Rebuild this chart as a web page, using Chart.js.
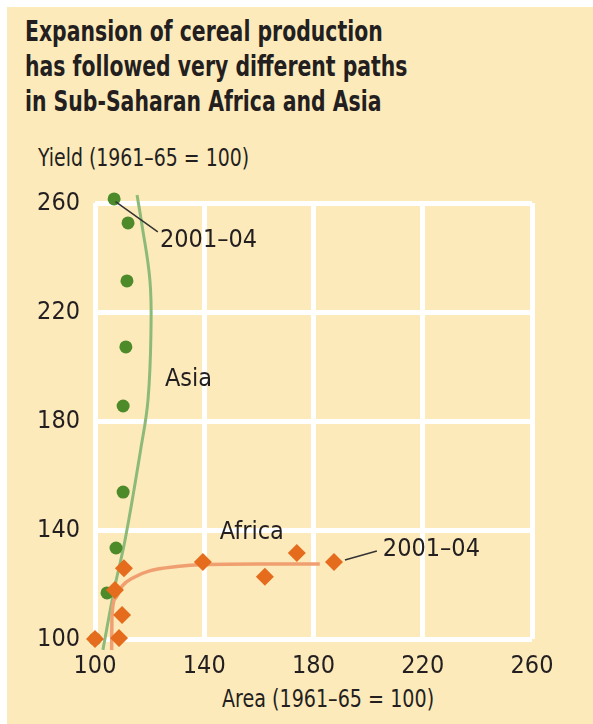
<!DOCTYPE html>
<html>
<head>
<meta charset="utf-8">
<script src="https://cdn.jsdelivr.net/npm/chart.js@4.4.1/dist/chart.umd.min.js"></script>
<style>
  html, body { margin: 0; padding: 0; background: #fff; }
  body { width: 593px; height: 724px; position: relative; overflow: hidden; }
  #panel { position: absolute; left: 7px; top: 7px; right: 0; bottom: 0; background: #fdeabb; }
  .txt { position: absolute; color: #231f20; font-family: 'Liberation Sans Narrow', 'DejaVu Sans Condensed', sans-serif; white-space: nowrap; transform-origin: 0 0; }
  #title { left: 25px; top: 14px; font-size: 28px; line-height: 35px; font-weight: bold; transform: scaleX(0.81); }
  #ylabel { left: 38px; top: 143px; font-size: 25px; transform: scaleX(0.84); }
  #xlabel { left: 222px; top: 684px; font-size: 25px; transform: scaleX(0.85); }
  canvas { position: absolute; left: 0; top: 0; }
</style>
</head>
<body>
<div id="panel"></div>
<div class="txt" id="title">Expansion of cereal production<br>has followed very different paths<br>in Sub-Saharan Africa and Asia</div>
<div class="txt" id="ylabel">Yield (1961–65 = 100)</div>
<div class="txt" id="xlabel">Area (1961–65 = 100)</div>
<canvas id="chart" width="593" height="724"></canvas>
<script>
// index values, 1961-65 = 100
const asiaArea = [100, 104.4, 107.7, 110.3, 110.3, 111.3, 111.7, 112.1, 107];
const asiaYield = [100, 116.9, 133.4, 153.9, 185.5, 207.2, 231.4, 252.7, 261.5];
const africaArea = [100, 108.8, 109.9, 107.3, 110.6, 139.5, 162.2, 173.9, 187.5];
const africaYield = [100, 100.4, 108.8, 118, 126, 128.3, 122.8, 131.6, 128.3];

// fitted trend curves
const asiaTrendArea = [102.9, 107, 111, 116.7, 119.4, 120.5, 120.1, 117.1, 115.4];
const asiaTrendYield = [96, 118, 136.3, 169.4, 187.7, 213.4, 231.7, 252.6, 262.9];
const africaTrendArea = [106.1, 106.2, 107.5, 110, 114, 120, 130, 140, 160, 182.3];
const africaTrendYield = [96, 108, 115, 119.5, 122.5, 125, 126.6, 127.3, 127.5, 127.5];

const axisTicks = [100, 140, 180, 220, 260];

const pts = (xs, ys) => xs.map((x, i) => ({ x: x, y: ys[i] }));
const font = "'Liberation Sans Narrow', 'DejaVu Sans Condensed', sans-serif";

const labels = {
  id: 'labels',
  afterDatasetsDraw(chart) {
    const { ctx, scales: { x, y } } = chart;
    ctx.save();
    // leader lines for the last period
    ctx.strokeStyle = '#333';
    ctx.lineWidth = 1.5;
    ctx.beginPath();
    ctx.moveTo(x.getPixelForValue(107.5), y.getPixelForValue(260.5));
    ctx.lineTo(x.getPixelForValue(123), y.getPixelForValue(249.4));
    ctx.moveTo(x.getPixelForValue(191.5), y.getPixelForValue(129));
    ctx.lineTo(x.getPixelForValue(203.2), y.getPixelForValue(132.3));
    ctx.stroke();

    ctx.fillStyle = '#231f20';
    ctx.font = '25px ' + font;
    ctx.textAlign = 'left';
    ctx.textBaseline = 'middle';
    ctx.fillText('2001–04', x.getPixelForValue(123.8), y.getPixelForValue(246.4));
    ctx.fillText('2001–04', x.getPixelForValue(205.4), y.getPixelForValue(132.7));
    ctx.fillText('Asia', x.getPixelForValue(125.6), y.getPixelForValue(195.4));
    ctx.fillText('Africa', x.getPixelForValue(145.7), y.getPixelForValue(138.9));
    ctx.restore();
  }
};

new Chart(document.getElementById('chart'), {
  type: 'scatter',
  data: {
    datasets: [
      {
        label: 'Africa',
        data: pts(africaArea, africaYield),
        pointStyle: 'rectRot',
        pointRadius: 9,
        backgroundColor: '#e46c1c',
        borderWidth: 0,
        clip: false,
      },
      {
        label: 'Asia',
        data: pts(asiaArea, asiaYield),
        pointRadius: 6.5,
        backgroundColor: '#4c8a2a',
        borderWidth: 0,
        clip: false,
      },
      {
        type: 'line',
        label: 'Africa trend',
        data: pts(africaTrendArea, africaTrendYield),
        borderColor: '#f0a070',
        borderWidth: 3.5,
        pointRadius: 0,
        cubicInterpolationMode: 'monotone',
        fill: false,
        clip: false,
      },
      {
        type: 'line',
        label: 'Asia trend',
        data: pts(asiaTrendArea, asiaTrendYield),
        borderColor: '#8dba78',
        borderWidth: 3,
        pointRadius: 0,
        tension: 0.4,
        fill: false,
        clip: false,
      },
    ],
  },
  options: {
    responsive: false,
    animation: false,
    layout: { padding: { top: 203, right: 61, left: 0, bottom: 0 } },
    plugins: {
      legend: { display: false },
      tooltip: { enabled: false },
    },
    scales: {
      x: {
        type: 'linear',
        min: 100,
        max: 260,
        afterFit: (s) => { s.height = 85; },
        afterBuildTicks: (s) => { s.ticks = axisTicks.map((v) => ({ value: v })); },
        grid: { color: '#fff', lineWidth: 5, drawTicks: false },
        border: { display: false },
        ticks: { color: '#231f20', font: { family: font, size: 25 }, padding: 12 },
      },
      y: {
        type: 'linear',
        min: 100,
        max: 260,
        afterFit: (s) => { s.width = 95; },
        afterBuildTicks: (s) => { s.ticks = axisTicks.map((v) => ({ value: v })); },
        grid: { color: '#fff', lineWidth: 5, drawTicks: false },
        border: { display: false },
        ticks: { color: '#231f20', font: { family: font, size: 25 }, padding: 15 },
      },
    },
  },
  plugins: [labels],
});
</script>
</body>
</html>
